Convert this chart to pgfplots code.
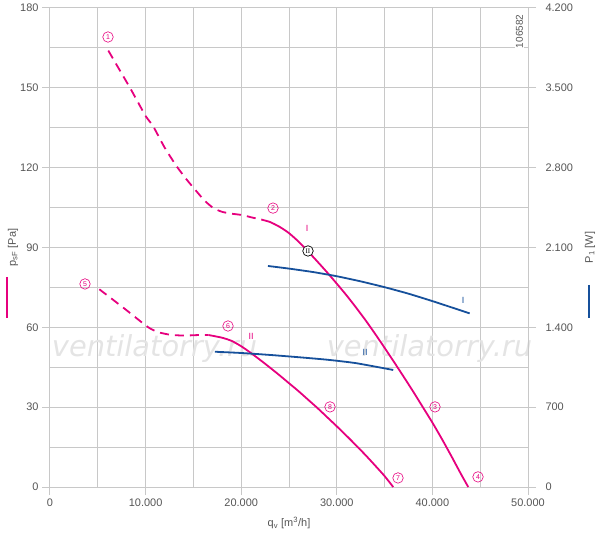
\documentclass[border=0pt]{standalone}
\usepackage{fontspec}
\setmainfont{Liberation Sans}
\newfontfamily\seriffont{Liberation Serif}
\newfontfamily\wmfont{DejaVu Sans}
\usepackage{pgfplots}
\pgfplotsset{compat=1.18}
\definecolor{mag}{RGB}{230,0,126}
\definecolor{blu}{RGB}{22,80,155}
\definecolor{gridgray}{RGB}{200,200,200}
\definecolor{txt}{RGB}{85,85,85}
\definecolor{wm}{RGB}{228,228,228}
\tikzset{num/.style={circle,draw=mag,line width=0.6bp,minimum size=10.5bp,inner sep=0pt,text=mag,font=\fontsize{7}{7}\selectfont}}
\begin{document}
\begin{tikzpicture}
\begin{axis}[
  scale only axis, width=478bp, height=479bp,
  clip=false,
  xmin=0, xmax=50000, ymin=0, ymax=180,
  xtick={0,10000,20000,30000,40000,50000},
  ytick={0,30,60,90,120,150,180},
  minor xtick={5000,15000,25000,35000,45000},
  minor ytick={15,45,75,105,135,165},
  xtick pos=bottom, ytick pos=left,
  grid=both,
  major grid style={gridgray, line width=1bp},
  minor grid style={gridgray, line width=1bp},
  axis line style={gridgray, line width=1bp},
  major tick style={gridgray, line width=1bp},
  major tick length=8bp, minor tick length=0pt, tick align=outside,
  scaled x ticks=false, scaled y ticks=false,
  /pgf/number format/assume math mode=true,
  /pgf/number format/1000 sep={.},
  ticklabel style={font=\fontsize{11}{13}\selectfont, text=txt},
  xlabel={q\textsubscript{v} [m\textsuperscript{3}/h]},
  xlabel style={font=\fontsize{11}{13}\selectfont, text=txt, yshift=-4bp},
]
\coordinate (ll) at (rel axis cs:0,0);
\coordinate (ur) at (rel axis cs:1,1);
\coordinate (lm) at (rel axis cs:0,0.5);
\coordinate (rm) at (rel axis cs:1,0.5);
% watermark
\node[anchor=base west, inner sep=0pt, font=\wmfont\itshape\fontsize{29}{29}\selectfont, text=wm] at (axis cs:180,49) {ventilatorry.ru};
\node[anchor=base west, inner sep=0pt, font=\wmfont\itshape\fontsize{29}{29}\selectfont, text=wm] at (axis cs:28940,49) {ventilatorry.ru};
% id
\node[rotate=90, fill=white, inner sep=1pt, font=\fontsize{10}{10}\selectfont, text=txt] at (axis cs:49100,171.2) {106582};
% curve I
\addplot[mag, line width=1.8bp, dash pattern=on 9bp off 6bp, smooth, tension=0.35] coordinates {
(6100,164) (7200,157.2) (8370,150) (9200,144.6) (10040,139.2) (10800,135.5) (12000,127.5) (13250,120.5) (14300,115.5) (15350,111) (16200,107.5) (17100,104.8) (18000,103.4) (19000,102.7) (20100,102.2) (21100,101.3) (22100,100.5)};
\addplot[mag, line width=1.8bp, smooth, tension=0.4] coordinates {
(22100,100.5) (23000,99.6) (24000,97.8) (25000,95.4) (26000,92.2) (27000,88.5) (28000,84.6) (29000,80.6) (30000,76.4) (31000,72.1) (32000,67.5) (33000,62.7) (34000,57.6) (35000,52.3) (36000,46.9) (37000,41.4) (38000,35.8) (39000,30.0) (40000,24.2) (41000,18.0) (42000,11.5) (43000,4.8) (43750,0)};
% curve II
\addplot[mag, line width=1.8bp, dash pattern=on 9bp off 6bp, smooth, tension=0.35] coordinates {
(5160,74.3) (7700,67.3) (10200,60.2) (11300,58.2) (12600,57.2) (14000,56.9) (15500,57.1) (16600,57.1)};
\addplot[mag, line width=1.8bp, smooth, tension=0.4] coordinates {
(16600,57.1) (18000,56.1) (19000,54.9) (20000,52.9) (21000,50.4) (22000,47.7) (23000,44.9) (24000,42.0) (25000,39.0) (26000,36.0) (27000,32.8) (28000,29.6) (29000,26.2) (30000,22.8) (31000,19.3) (32000,15.7) (33000,12.0) (34000,8.1) (35000,4.1) (35900,0)};
% labels
\node[num] at (axis cs:6067,169.1) {1};
\node[num] at (axis cs:23326,104.8) {2};
\node[num] at (axis cs:40272,30.1) {3};
\node[num] at (axis cs:44770,3.8) {4};
\node[num] at (axis cs:3661,76.3) {5};
\node[num] at (axis cs:18619,60.5) {6};
\node[num] at (axis cs:36402,3.4) {7};
\node[num] at (axis cs:29289,30.1) {8};
\node[text=mag, font=\fontsize{9}{9}\selectfont] at (axis cs:26883,97.3) {I};
\node[text=mag, font=\fontsize{9}{9}\selectfont] at (axis cs:21025,56.5) {II};
\node[circle, draw=black, fill=white, line width=0.7bp, inner sep=0pt, minimum size=10.5bp, font=\seriffont\fontsize{7}{7}\selectfont] at (axis cs:26987,88.7) {II};
\end{axis}
\begin{axis}[
  scale only axis, width=478bp, height=479bp,
  xmin=0, xmax=50000, ymin=0, ymax=4200,
  axis x line=none, axis y line*=right,
  ytick={0,700,1400,2100,2800,3500,4200},
  axis line style={gridgray, line width=1bp},
  major tick style={gridgray, line width=1bp},
  major tick length=8bp, tick align=outside,
  scaled y ticks=false,
  /pgf/number format/assume math mode=true,
  /pgf/number format/1000 sep={.},
  yticklabel style={font=\fontsize{11}{13}\selectfont, text=txt, xshift=6bp},
]
\addplot[blu, line width=1.8bp, smooth, tension=0.35] coordinates {
(22800,1938) (25000,1915) (27500,1885) (30000,1848) (32500,1803) (35000,1752) (37500,1695) (40000,1630) (42000,1575) (43900,1522)};
\addplot[blu, line width=1.8bp, smooth, tension=0.35] coordinates {
(17250,1186) (20000,1175) (23000,1158) (26000,1138) (29000,1116) (32000,1086) (35900,1026)};
\node[text=blu, font=\fontsize{9}{9}\selectfont] at (axis cs:43201,1640) {I};
\node[text=blu, font=\fontsize{9}{9}\selectfont] at (axis cs:32950,1184) {II};
\end{axis}
% axis titles
\node[rotate=90, font=\fontsize{11}{13}\selectfont, text=txt] at ([xshift=-37bp]lm) {p\textsubscript{sF} [Pa]};
\draw[mag, line width=1.6bp] ([xshift=-43bp,yshift=-29.5bp]lm) -- ([xshift=-43bp,yshift=-70.5bp]lm);
\node[rotate=90, font=\fontsize{11}{13}\selectfont, text=txt] at ([xshift=62bp]rm) {P\textsubscript{1} [W]};
\draw[blu, line width=1.6bp] ([xshift=61bp,yshift=-37.5bp]rm) -- ([xshift=61bp,yshift=-70.5bp]rm);
\pgfresetboundingbox
\path[use as bounding box] ([shift={(-50bp,-48bp)}]ll) rectangle ([shift={(72bp,8bp)}]ur);
\end{tikzpicture}
\end{document}
